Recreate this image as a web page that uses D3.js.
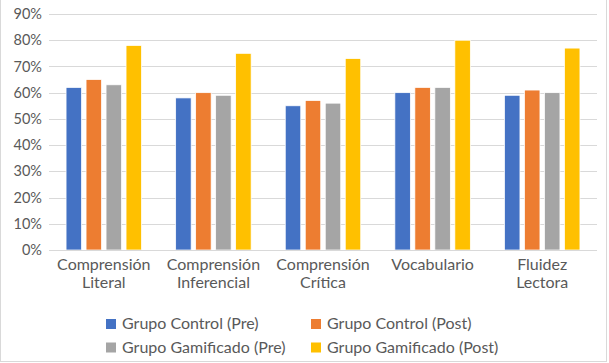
<!DOCTYPE html>
<meta charset="utf-8">
<style>
body { margin: 0; background: #fff; }
text { font-family: Lato, "Open Sans", sans-serif; fill: #595959; }
.grid line { stroke: #d9d9d9; stroke-width: 1px; }
</style>
<body>
<script src="https://d3js.org/d3.v7.min.js"></script>
<script>

// chart data
var categories = ["Comprensión Literal", "Comprensión Inferencial", "Comprensión Crítica", "Vocabulario", "Fluidez Lectora"];
var seriesNames = ["Grupo Control (Pre)", "Grupo Control (Post)", "Grupo Gamificado (Pre)", "Grupo Gamificado (Post)"];
var controlPre = [0.62, 0.58, 0.55, 0.60, 0.59];
var controlPost = [0.65, 0.60, 0.57, 0.62, 0.61];
var gamPre = [0.63, 0.59, 0.56, 0.62, 0.60];
var gamPost = [0.78, 0.75, 0.73, 0.80, 0.77];
var yTicks = [0, 0.1, 0.2, 0.3, 0.4, 0.5, 0.6, 0.7, 0.8, 0.9];
var colors = ["#4472C4", "#ED7D31", "#A5A5A5", "#FFC000"];

var seriesValues = [controlPre, controlPost, gamPre, gamPost];

var width = 609, height = 363;

var svg = d3.select("body").append("svg")
  .attr("width", width)
  .attr("height", height);

// outer frame
svg.append("rect")
  .attr("x", 0.5).attr("y", -5)
  .attr("width", 606).attr("height", 366.5)
  .attr("fill", "#fff")
  .attr("stroke", "#d9d9d9");

var x = d3.scaleBand()
  .domain(categories)
  .range([49, 597]);

var xSub = d3.scaleBand()
  .domain(seriesNames)
  .range([0, x.bandwidth()])
  .paddingInner(0.225)
  .paddingOuter(0.853);

var y = d3.scaleLinear()
  .domain([0, 0.9])
  .range([250, 14]);

// gridlines
svg.append("g").attr("class", "grid")
  .selectAll("line")
  .data(yTicks.slice(1))
  .enter().append("line")
    .attr("x1", 49).attr("x2", 597)
    .attr("y1", function(d) { return Math.round(y(d)) + 0.5; })
    .attr("y2", function(d) { return Math.round(y(d)) + 0.5; });

// y labels
svg.append("g")
  .selectAll("text")
  .data(yTicks)
  .enter().append("text")
    .attr("x", 42)
    .attr("y", function(d) { return y(d); })
    .attr("dy", "0.35em")
    .attr("text-anchor", "end")
    .style("font-size", "14.5px")
    .text(d3.format(".0%"));

// bars
var groups = svg.append("g")
  .selectAll("g")
  .data(categories)
  .enter().append("g")
    .attr("transform", function(d) { return "translate(" + x(d) + ",0)"; });

groups.selectAll("rect")
  .data(function(d, i) {
    return seriesNames.map(function(s, j) { return {s: s, j: j, v: seriesValues[j][i]}; });
  })
  .enter().append("rect")
    .attr("x", function(d) { return xSub(d.s); })
    .attr("width", xSub.bandwidth())
    .attr("y", function(d) { return y(d.v); })
    .attr("height", function(d) { return y(0) - y(d.v); })
    .attr("fill", function(d) { return colors[d.j]; })
    .attr("stroke", "#fff")
    .attr("stroke-width", 0.75);

// x axis line
svg.append("line")
  .attr("x1", 49).attr("x2", 597)
  .attr("y1", 250.5).attr("y2", 250.5)
  .attr("stroke", "#d9d9d9");

// category labels
var catLabels = svg.append("g")
  .selectAll("text")
  .data(categories)
  .enter().append("text")
    .attr("x", function(d) { return x(d) + x.bandwidth() / 2; })
    .attr("y", 270)
    .attr("text-anchor", "middle")
    .style("font-size", "16px");

catLabels.selectAll("tspan")
  .data(function(d) { return d.split(" "); })
  .enter().append("tspan")
    .attr("x", function() { var p = this.parentNode; return d3.select(p).attr("x"); })
    .attr("dy", function(d, i) { return i === 0 ? 0 : 17.5; })
    .text(function(d) { return d; });

// legend
var legendPos = [[106, 324], [311, 324], [106, 347.5], [311, 347.5]];
var legend = svg.append("g")
  .selectAll("g")
  .data(seriesNames)
  .enter().append("g")
    .attr("transform", function(d, i) { return "translate(" + legendPos[i][0] + "," + legendPos[i][1] + ")"; });

legend.append("rect")
  .attr("x", 0).attr("y", -5)
  .attr("width", 10).attr("height", 10)
  .attr("fill", function(d, i) { return colors[i]; });

legend.append("text")
  .attr("x", 16)
  .attr("y", 5)
  .style("font-size", "16px")
  .text(function(d) { return d; });

</script>
</body>
